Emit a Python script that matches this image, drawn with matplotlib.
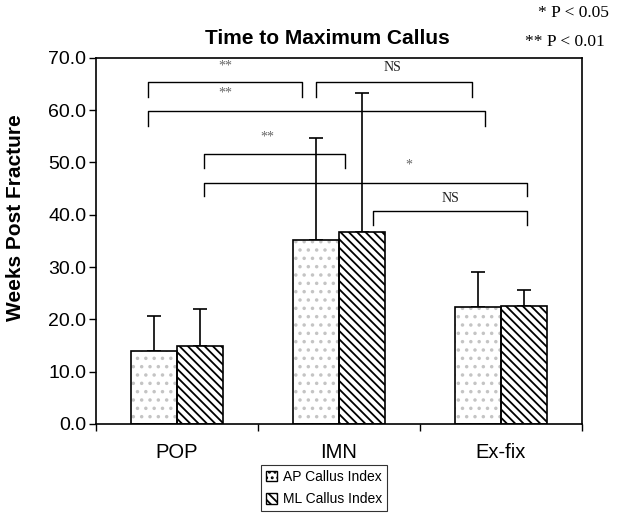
import numpy as np
import matplotlib
matplotlib.use('Agg')
import matplotlib.pyplot as plt
from matplotlib.patches import Patch

plt.rcParams['font.family'] = ['Liberation Sans', 'DejaVu Sans']
plt.rcParams['hatch.linewidth'] = 1.3

# donnees
groupes = ['POP', 'IMN', 'Ex-fix']
ap_index = [14.0, 35.1, 22.3]
ml_index = [15.0, 36.8, 22.6]
ap_err = [6.7, 19.6, 6.8]
ml_err = [7.0, 26.4, 3.0]

# comparaisons : (x gauche, x droite, haut, bas, texte, x texte, y texte)
comparaisons = [
    (-0.18, 0.77, 65.3, 62.5, '**', 0.30, 68.1),
    (0.86, 1.82, 65.3, 62.5, 'NS', 1.33, 68.1),
    (-0.18, 1.90, 59.9, 57.0, '**', 0.30, 62.9),
    (0.17, 1.04, 51.6, 48.9, '**', 0.56, 54.5),
    (0.17, 2.16, 46.1, 43.5, '*', 1.43, 49.2),
    (1.21, 2.16, 40.7, 38.1, 'NS', 1.69, 43.2),
]

fig = plt.figure(figsize=(6.23, 5.17), dpi=100)
ax = fig.add_axes([0.154, 0.180, 0.780, 0.708])

x = np.arange(len(groupes))
w = 0.284

ax.bar(x - w/2, ap_index, w, color='white', edgecolor='#c4c4c4', hatch='..', linewidth=0, zorder=2)
ax.bar(x - w/2, ap_index, w, color='none', edgecolor='black', linewidth=1.2, zorder=3)
ax.bar(x + w/2, ml_index, w, color='white', edgecolor='black', hatch='\\\\\\\\', linewidth=0, zorder=2)
ax.bar(x + w/2, ml_index, w, color='none', edgecolor='black', linewidth=1.2, zorder=3)

ax.errorbar(x - w/2, ap_index, yerr=[np.zeros(3), ap_err], fmt='none', ecolor='black',
            elinewidth=1.2, capsize=5, capthick=1.2, zorder=1)
ax.errorbar(x + w/2, ml_index, yerr=[np.zeros(3), ml_err], fmt='none', ecolor='black',
            elinewidth=1.2, capsize=5, capthick=1.2, zorder=1)

for x1, x2, haut, bas, txt, xt, yt in comparaisons:
    ax.plot([x1, x1, x2, x2], [bas, haut, haut, bas], color='black', lw=1.0, zorder=4)
    if txt == 'NS':
        ax.text(xt, yt, txt, ha='center', va='center', fontsize=10,
                family=['Liberation Serif'], color='#222222')
    else:
        ax.text(xt, yt + 0.3, txt, ha='center', va='center', fontsize=10,
                family=['Liberation Serif'], color='#666666')

ax.set_xlim(-0.5, 2.5)
ax.set_ylim(0, 70)
ax.set_yticks(np.arange(0, 71, 10))
ax.set_yticklabels(['%.1f' % v for v in np.arange(0, 71, 10)], fontsize=14)
ax.set_xticks([-0.5, 0.5, 1.5, 2.5])
ax.set_xticklabels([])
ax.tick_params(axis='both', direction='out', length=5, width=1, pad=2)
for i, g in enumerate(groupes):
    ax.text(i, -5.4, g, ha='center', va='center', fontsize=14.5)
for s in ax.spines.values():
    s.set_linewidth(1.2)

ax.set_ylabel('Weeks Post Fracture', fontsize=15, fontweight='bold')
ax.yaxis.set_label_coords(-0.145, 0.563)
fig.text(0.525, 0.926, 'Time to Maximum Callus', ha='center', va='center',
         fontsize=15, fontweight='bold')
fig.text(0.864, 0.974, '* P < 0.05', ha='left', va='center', fontsize=12.5, family=['Liberation Serif'])
fig.text(0.843, 0.918, '** P < 0.01', ha='left', va='center', fontsize=12.5, family=['Liberation Serif'])

poignees = [Patch(facecolor='white', edgecolor='black', hatch='...', label='AP Callus Index'),
            Patch(facecolor='white', edgecolor='black', hatch='\\\\\\\\', label='ML Callus Index')]
leg = fig.legend(handles=poignees, loc='upper left', bbox_to_anchor=(0.408, 0.114),
                 fontsize=10, frameon=True, fancybox=False, edgecolor='black',
                 handlelength=0.8, handleheight=0.8, handletextpad=0.4,
                 borderpad=0.35, labelspacing=0.6)
leg.get_frame().set_linewidth(0.8)

plt.savefig('out.png', dpi=100)
